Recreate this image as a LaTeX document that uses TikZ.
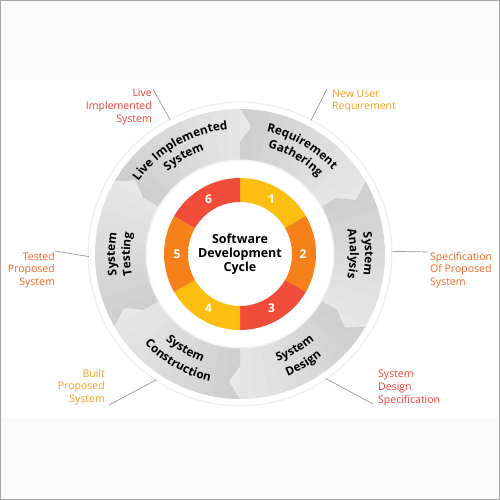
\documentclass[tikz,border=0pt]{standalone}
\usepackage{fontspec}
\setmainfont{Open Sans}
\usetikzlibrary{calc,decorations.text}
\definecolor{ringdark}{RGB}{204,204,204}
\definecolor{ringlight}{RGB}{236,236,236}
\definecolor{cyel}{RGB}{253,190,18}
\definecolor{corg}{RGB}{246,128,26}
\definecolor{cred}{RGB}{240,76,58}
\definecolor{tred}{RGB}{238,64,54}
\definecolor{torg}{RGB}{242,101,34}
\definecolor{tyel}{RGB}{246,160,26}
\definecolor{bgband}{RGB}{251,251,251}
\newcommand\ringfont{\bfseries\fontsize{11.8}{13}\selectfont}
\begin{document}
\begin{tikzpicture}[x=1pt,y=1pt,
  lbl/.style={font=\fontsize{10.5}{12.7}\selectfont, inner sep=0pt},
  leader/.style={draw=black!40, line width=0.7pt},
  num/.style={font=\bfseries\fontsize{12}{12}\selectfont, text=white, inner sep=0pt}]
\useasboundingbox (0,0) rectangle (500,500);
\fill[bgband] (0,0) rectangle (500,500);
\fill[white] (0,82) rectangle (500,420);
\draw[black!35, line width=1pt] (0.5,0.5) rectangle (499.5,499.5);
\coordinate (C) at (240,246);
% outer rim
\fill[black!6] (C) circle (152.5);
\fill[white] (C) circle (151);
% gray arrow segments
\def\ro{145} \def\ri{93} \def\rm{128} \def\rb{112} \def\dl{5}
\foreach \s in {150,90,30,-30,-90,-150}{
  \pgfmathsetmacro\e{\s-60}
  \begin{scope}
  \clip ($(C)+(\s:\ro)$) arc[start angle=\s, end angle=\e, radius=\ro]
     -- ($(C)+(\e-\dl:\rm)$) -- ($(C)+(\e:\rb)$) -- ($(C)+(\e:\ri)$)
     arc[start angle=\e, end angle=\s, radius=\ri]
     -- ($(C)+(\s:\rb)$) -- ($(C)+(\s-\dl:\rm)$) -- cycle;
  \foreach \i in {0,...,13}{
     \pgfmathtruncatemacro\t{min(100,\i*8)}
     \pgfmathsetmacro\a{\s+6-\i*6}
     \fill[ringlight!\t!ringdark] (C) -- ($(C)+(\a:150)$) arc[start angle=\a, end angle=\a-6.5, radius=150] -- cycle;
  }
  \end{scope}
}
% inner white disc
\fill[black!5] (C) circle (94.5);
\fill[white] (C) circle (93);
% coloured ring
\foreach \s/\c in {90/cyel,30/corg,-30/cred,-90/cyel,-150/corg,150/cred}{
  \fill[\c] ($(C)+(\s:76)$) arc[start angle=\s, end angle=\s-60, radius=76]
    -- ($(C)+(\s-60:52)$) arc[start angle=\s-60, end angle=\s, radius=52] -- cycle;
}
\node[num] (n1) at ($(C)+(60:63)$) {1};
\node[num] (n2) at ($(C)+(0:63)$) {2};
\node[num] (n3) at ($(C)+(-60:63)$) {3};
\node[num] (n4) at ($(C)+(-120:63)$) {4};
\node[num] (n5) at ($(C)+(180:63)$) {5};
\node[num] (n6) at ($(C)+(120:63)$) {6};
\node[font=\bfseries\fontsize{12.5}{14}\selectfont, align=center] (title) at (C) {Software\\Development\\Cycle};
% ring labels (clockwise, upper)
\path[decorate, decoration={text along path, text={|\ringfont|Live Implemented}, text align=center}]
  ($(C)+(150:125)$) arc[start angle=150, end angle=90, radius=125];
\path[decorate, decoration={text along path, text={|\ringfont|System}, text align=center}]
  ($(C)+(150:110)$) arc[start angle=150, end angle=90, radius=110];
\path[decorate, decoration={text along path, text={|\ringfont|Requirement}, text align=center}]
  ($(C)+(90:125)$) arc[start angle=90, end angle=30, radius=125];
\path[decorate, decoration={text along path, text={|\ringfont|Gathering}, text align=center}]
  ($(C)+(90:110)$) arc[start angle=90, end angle=30, radius=110];
\path[decorate, decoration={text along path, text={|\ringfont|System}, text align=center}]
  ($(C)+(30:125)$) arc[start angle=30, end angle=-30, radius=125];
\path[decorate, decoration={text along path, text={|\ringfont|Analysis}, text align=center}]
  ($(C)+(30:110)$) arc[start angle=30, end angle=-30, radius=110];
\path[decorate, decoration={text along path, text={|\ringfont|System}, text align=center}]
  ($(C)+(210:125)$) arc[start angle=210, end angle=150, radius=125];
\path[decorate, decoration={text along path, text={|\ringfont|Testing}, text align=center}]
  ($(C)+(210:110)$) arc[start angle=210, end angle=150, radius=110];
% ring labels (counter-clockwise, lower)
\path[decorate, decoration={text along path, text={|\ringfont|System}, text align=center}]
  ($(C)+(-90:114)$) arc[start angle=-90, end angle=-30, radius=114];
\path[decorate, decoration={text along path, text={|\ringfont|Design}, text align=center}]
  ($(C)+(-90:131)$) arc[start angle=-90, end angle=-30, radius=131];
\path[decorate, decoration={text along path, text={|\ringfont|System}, text align=center}]
  ($(C)+(-150:114)$) arc[start angle=-150, end angle=-90, radius=114];
\path[decorate, decoration={text along path, text={|\ringfont|Construction}, text align=center}]
  ($(C)+(-150:131)$) arc[start angle=-150, end angle=-90, radius=131];
% outer labels
\node[lbl, text=tred, align=right, anchor=east] (liveL) at (152,393) {Live\\Implemented\\System};
\node[lbl, text=tyel, align=left, anchor=west] (newL) at (332,399) {New User\\Requirement};
\node[lbl, text=torg, align=left, anchor=west] (specL) at (430,230) {Specification\\Of Proposed\\System};
\node[lbl, text=tred, align=left, anchor=west] (sdsL) at (378,112) {System\\Design\\Specification};
\node[lbl, text=tyel, align=right, anchor=east] (builtL) at (105,113) {Built\\Proposed\\System};
\node[lbl, text=torg, align=right, anchor=east] (testL) at (55,230) {Tested\\Proposed\\System};
% leaders
\coordinate (l1a) at (153,411); \coordinate (l1b) at ($(C)+(117.5:151)$);
\coordinate (l2a) at (327,411); \coordinate (l2b) at ($(C)+(62:151)$);
\coordinate (l3a) at (428,248); \coordinate (l3b) at ($(C)+(1:152)$);
\coordinate (l4a) at (373,96);  \coordinate (l4b) at ($(C)+(-55.5:151)$);
\coordinate (l5a) at (109,95);  \coordinate (l5b) at ($(C)+(-123.6:151)$);
\coordinate (l6a) at (55,249);  \coordinate (l6b) at ($(C)+(181:151)$);
\foreach \k in {1,...,6}{\draw[leader] (l\k a) -- (l\k b);}
\end{tikzpicture}
\end{document}
